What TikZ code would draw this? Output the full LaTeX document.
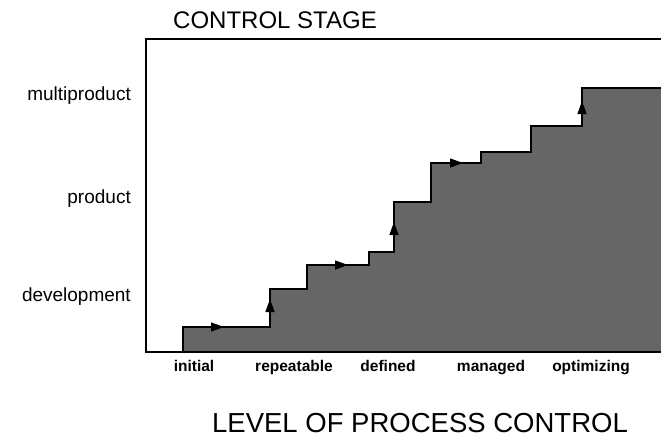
\documentclass[tikz,border=0pt]{standalone}
\usepackage{fontspec}
\setmainfont{Liberation Sans}
\usetikzlibrary{arrows.meta}
\begin{document}
\begin{tikzpicture}[x=1pt,y=-1pt,
  frameline/.style={line width=1.3pt,black},
  stairline/.style={line width=1.2pt,black},
  stairfill/.style={fill=black!60},
  steparrow/.style={line width=1.3pt,-{Triangle[length=13pt,width=9pt]}},
  ylab/.style={anchor=base east,font=\fontsize{19}{19}\selectfont,inner sep=0pt},
  xlab/.style={anchor=base,font=\bfseries\fontsize{15.5}{15.5}\selectfont,inner sep=0pt},
  title/.style={anchor=base west,font=\fontsize{24}{24}\selectfont,inner sep=0pt}]
\useasboundingbox (0,0) rectangle (661,437);
% staircase fill
\fill[stairfill] (183,352) -- (183,327) -- (270,327) -- (270,289) -- (307,289) -- (307,265)
  -- (369,265) -- (369,252) -- (394,252) -- (394,202) -- (431,202) -- (431,163)
  -- (481,163) -- (481,152) -- (531,152) -- (531,126) -- (582,126) -- (582,88)
  -- (661,88) -- (661,352) -- cycle;
\draw[stairline] (183,352) -- (183,327) -- (270,327) -- (270,289) -- (307,289) -- (307,265)
  -- (369,265) -- (369,252) -- (394,252) -- (394,202) -- (431,202) -- (431,163)
  -- (481,163) -- (481,152) -- (531,152) -- (531,126) -- (582,126) -- (582,88)
  -- (661,88);
% frame
\draw[frameline] (661,39) -- (146,39) -- (146,352) -- (661,352);
% arrows
\coordinate (a1s) at (200,327); \coordinate (a1e) at (224,327);
\coordinate (a2s) at (270,322); \coordinate (a2e) at (270,299);
\coordinate (a3s) at (325,265); \coordinate (a3e) at (348,265);
\coordinate (a4s) at (394,245); \coordinate (a4e) at (394,222);
\coordinate (a5s) at (440,163); \coordinate (a5e) at (463,163);
\coordinate (a6s) at (582,124); \coordinate (a6e) at (582,101);
\draw[steparrow] (a1s) -- (a1e);
\draw[steparrow] (a2s) -- (a2e);
\draw[steparrow] (a3s) -- (a3e);
\draw[steparrow] (a4s) -- (a4e);
\draw[steparrow] (a5s) -- (a5e);
\draw[steparrow] (a6s) -- (a6e);
% labels
\node[title] (t) at (173,28) {CONTROL STAGE};
\node[ylab] (l1) at (131,100) {multiproduct};
\node[ylab] (l2) at (131,203) {product};
\node[ylab] (l3) at (131,301) {development};
\node[xlab] (x1) at (194,371) {initial};
\node[xlab] (x2) at (294,371) {repeatable};
\node[xlab] (x3) at (388,371) {defined};
\node[xlab] (x4) at (491,371) {managed};
\node[xlab] (x5) at (591,371) {optimizing};
\node[anchor=base,font=\fontsize{27.5}{27.5}\selectfont,inner sep=0pt] (xt) at (420,432) {LEVEL OF PROCESS CONTROL};
\end{tikzpicture}
\end{document}
